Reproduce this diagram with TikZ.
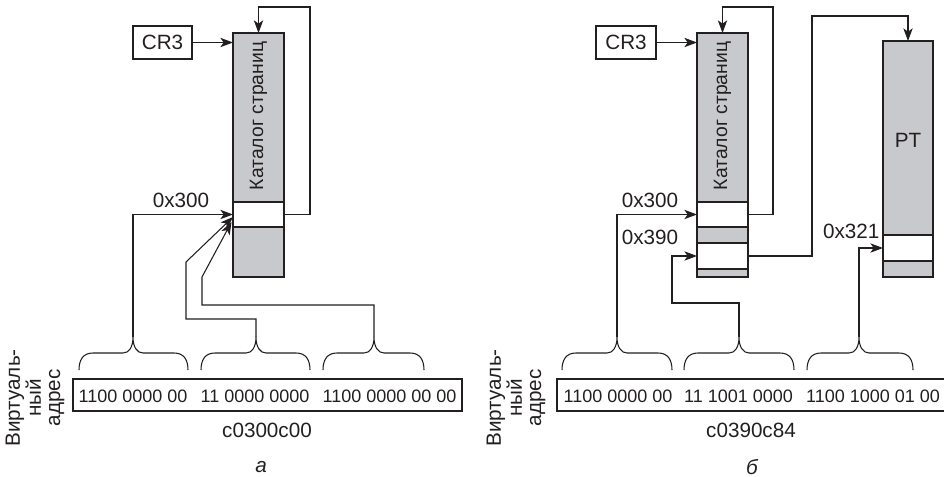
\documentclass[tikz,border=0pt]{standalone}
\usepackage{fontspec}
\setmainfont{Liberation Sans}
\usetikzlibrary{arrows.meta,calc}
\definecolor{dirgray}{RGB}{200,201,204}
\definecolor{ink}{RGB}{35,31,32}
\newcommand\mybrace[3]{%
  \draw (#1,370) .. controls (#1,360) and (#1+4,353) .. (#1+14,353) -- (#2-10,353)
    .. controls (#2-4,353) and (#2,347) .. (#2,337)
    .. controls (#2,347) and (#2+4,353) .. (#2+10,353) -- (#3-14,353)
    .. controls (#3-4,353) and (#3,360) .. (#3,370);}
\begin{document}
\begin{tikzpicture}[x=0.75pt,y=-0.75pt,color=ink,line width=0.8pt,
  box/.style={draw,rectangle,inner sep=0pt,outer sep=0pt},
  grayb/.style={box,fill=dirgray},
  whiteb/.style={box,fill=white},
  lab/.style={font=\fontsize{15.5}{18}\selectfont,inner sep=0pt},
  catlab/.style={font=\fontsize{14.5}{17}\selectfont,inner sep=0pt,rotate=90},
  bits/.style={font=\fontsize{13.5}{16}\selectfont,inner sep=0pt},
  vlab/.style={font=\fontsize{15.5}{14.5}\selectfont,inner sep=0pt,rotate=90,align=center},
  arr/.style={-{Stealth[length=9.5pt,width=7pt,inset=2.5pt]}}]
\useasboundingbox (0,0) rectangle (944,477);

% ---------------- panel a ----------------
\node[box,minimum width=44.25pt,minimum height=24.75pt,lab] (cr3a) at (162.5,42.5) {CR3};
\node[grayb,minimum width=38.25pt,minimum height=183pt] (dira) at (258.5,155) {};
\node[whiteb,minimum width=38.25pt,minimum height=18.75pt] (sa1) at (258.5,214.5) {};
\node[catlab] (cata) at (258.5,116) {Каталог страниц};
\node[lab] (l300a) at (181,200) {0x300};

\draw[arr] (cr3a.east) -- (cr3a.east -| dira.west);
\draw[arr] (sa1.east) -| (310,7) -| (dira.north);

\node[box,minimum width=291.75pt,minimum height=24pt] (addra) at (267.5,395) {};
\node[bits] (ba1) at (133,396) {1100 0000 00};
\node[bits] (ba2) at (255,396) {11 0000 0000};
\node[bits] (ba3) at (389.5,396) {1100 0000 00 00};
\node[lab] (hexa) at (267,430) {c0300c00};
\node[lab] (capa) at (261,467) {\itshape а};
\node[vlab] (vaa) at (35,398) {Виртуаль-\\ный\\адрес};

\mybrace{79}{133}{188}
\mybrace{201}{256}{310}
\mybrace{323}{374}{424}
\coordinate (ta1) at (133,337);
\coordinate (ta2) at (256,337);
\coordinate (ta3) at (374,337);

\draw[arr] (ta1) |- (sa1.west);
\draw[arr] (ta2) |- (186,319) -- (186,262) -- ($(sa1.west)+(0,2.5)$);
\draw[arr] (ta3) |- (202,305) -- (202,277) -- ($(sa1.west)+(-1.5,7.5)$);

% ---------------- panel b ----------------
\node[box,minimum width=45pt,minimum height=24.75pt,lab] (cr3b) at (626,42.5) {CR3};
\node[grayb,minimum width=38.25pt,minimum height=183pt] (dirb) at (722.5,155) {};
\node[whiteb,minimum width=38.25pt,minimum height=18.75pt] (sb1) at (722.5,214.5) {};
\node[whiteb,minimum width=38.25pt,minimum height=19.5pt] (sb3) at (722.5,256) {};
\node[catlab] (catb) at (722.5,116) {Каталог страниц};
\node[lab] (l300b) at (650,200) {0x300};
\node[lab] (l390b) at (650,237) {0x390};

\node[grayb,minimum width=37.5pt,minimum height=177pt] (ptb) at (908,159) {};
\node[whiteb,minimum width=37.5pt,minimum height=19.5pt] (pt1) at (908,248) {};
\node[lab] (ptl) at (908,140) {PT};
\node[lab,anchor=east] (l321) at (880,231) {0x321};

\draw[arr] (cr3b.east) -- (cr3b.east -| dirb.west);
\draw[arr] (sb1.east) -| (773,7) -| (dirb.north);
\draw[arr] (sb3.east) -| (812,16) -| (ptb.north);

\draw (949,379) -- (557,379) -- (557,411) -- (949,411);
\node[bits] (bb1) at (618,396) {1100 0000 00};
\node[bits] (bb2) at (738.5,396) {11 1001 0000};
\node[bits] (bb3) at (873,396) {1100 1000 01 00};
\node[lab] (hexb) at (751,430) {c0390c84};
\node[lab] (capb) at (752,467) {\itshape б};
\node[vlab] (vab) at (516,398) {Виртуаль-\\ный\\адрес};

\mybrace{562}{617}{672}
\mybrace{684}{739}{794}
\mybrace{807}{859}{913}
\coordinate (tb1) at (617,337);
\coordinate (tb2) at (739,337);
\coordinate (tb3) at (859,337);

\draw[arr] (tb1) |- (sb1.west);
\draw[arr] (tb2) |- (672,303) |- (sb3.west);
\draw[arr] (tb3) |- (pt1.west);
\end{tikzpicture}
\end{document}
